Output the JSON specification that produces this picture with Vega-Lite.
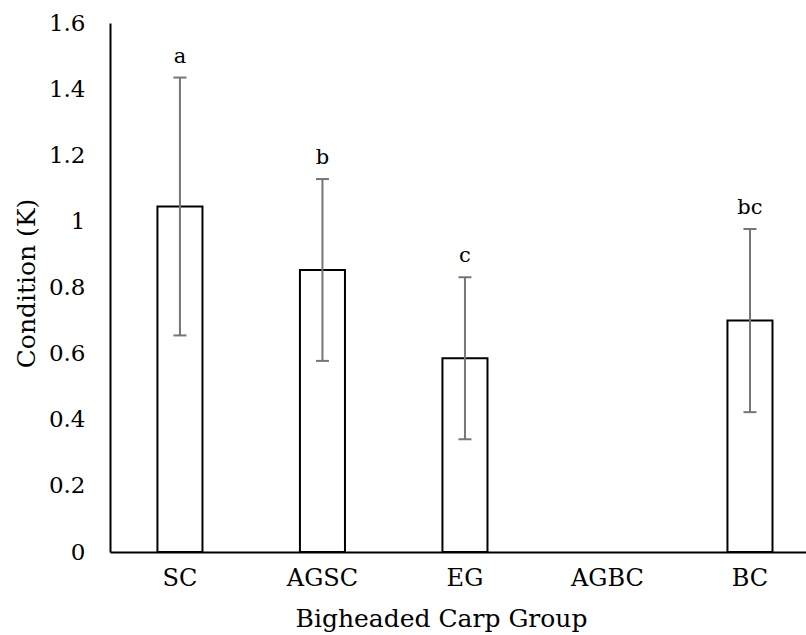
{
  "$schema": "https://vega.github.io/schema/vega-lite/v6.json",
  "width": 696,
  "height": 529,
  "autosize": {"type": "none"},
  "padding": {"left": 110, "top": 23, "right": 0, "bottom": 83},
  "background": "white",
  "config": {
    "view": {"stroke": null},
    "font": "DejaVu Serif",
    "axis": {"labelFont": "DejaVu Serif", "titleFont": "DejaVu Serif"},
    "text": {"font": "DejaVu Serif"}
  },
  "data": {"values": [
    {"group": "SC", "mean": 1.045, "lower": 0.655, "upper": 1.435, "letter": "a"},
    {"group": "AGSC", "mean": 0.853, "lower": 0.578, "upper": 1.128, "letter": "b"},
    {"group": "EG", "mean": 0.586, "lower": 0.341, "upper": 0.831, "letter": "c"},
    {"group": "BC", "mean": 0.70, "lower": 0.423, "upper": 0.977, "letter": "bc"}
  ]},
  "encoding": {
    "x": {
      "field": "group", "type": "nominal",
      "scale": {"domain": ["SC", "AGSC", "EG", "AGBC", "BC"], "paddingInner": 0.684, "paddingOuter": 0.284, "align": 0.586},
      "axis": {
        "title": "Bigheaded Carp Group", "labelAngle": 0, "labelFontSize": 24, "labelColor": "black",
        "labelPadding": 14, "ticks": false, "tickSize": 0, "domainColor": "black", "domainWidth": 2,
        "titleFontSize": 25, "titleFontWeight": "normal", "titleColor": "black",
        "titleX": 331, "titleY": 74, "titleBaseline": "alphabetic", "titleAlign": "center", "grid": false
      }
    }
  },
  "layer": [
    {
      "mark": {"type": "bar", "fill": "white", "stroke": "black", "strokeWidth": 2},
      "encoding": {
        "y": {
          "field": "mean", "type": "quantitative", "title": "Condition (K)",
          "scale": {"domain": [0, 1.6], "nice": false, "zero": true},
          "axis": {
            "values": [0, 0.2, 0.4, 0.6, 0.8, 1, 1.2, 1.4, 1.6], "format": "~g",
            "labelFontSize": 23, "labelColor": "black", "labelPadding": 25, "ticks": false, "tickSize": 0,
            "grid": false, "domainColor": "black", "domainWidth": 2,
            "titleFontSize": 25, "titleFontWeight": "normal", "titleColor": "black",
            "titleX": -84, "titleY": 260, "titleAngle": -90, "titleAlign": "center", "titleBaseline": "middle"
          }
        }
      }
    },
    {
      "mark": {"type": "rule", "color": "#767676", "strokeWidth": 2},
      "encoding": {
        "y": {"field": "lower", "type": "quantitative", "title": "Condition (K)"},
        "y2": {"field": "upper"}
      }
    },
    {
      "mark": {"type": "tick", "color": "#767676", "thickness": 2, "size": 13, "opacity": 1},
      "encoding": {"y": {"field": "upper", "type": "quantitative", "title": "Condition (K)"}}
    },
    {
      "mark": {"type": "tick", "color": "#767676", "thickness": 2, "size": 13, "opacity": 1},
      "encoding": {"y": {"field": "lower", "type": "quantitative", "title": "Condition (K)"}}
    },
    {
      "mark": {"type": "text", "fontSize": 21, "dy": -15, "baseline": "alphabetic", "color": "black"},
      "encoding": {
        "y": {"field": "upper", "type": "quantitative", "title": "Condition (K)"},
        "text": {"field": "letter"}
      }
    }
  ]
}
